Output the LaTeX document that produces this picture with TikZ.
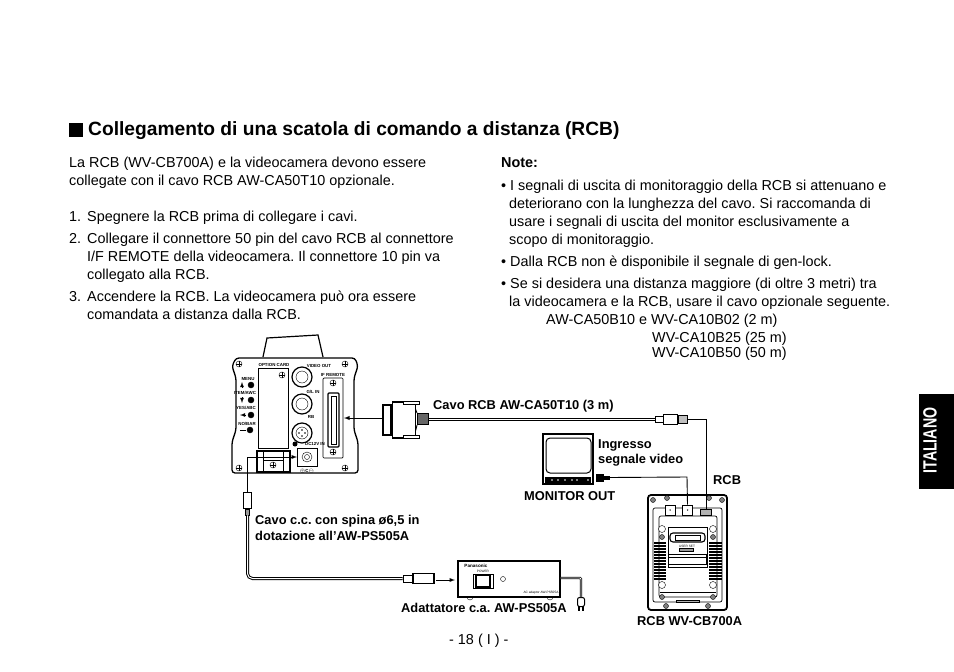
\documentclass[tikz,border=0pt]{standalone}
\usepackage{fontspec}
\setmainfont{Liberation Sans}
\frenchspacing
\usetikzlibrary{positioning}
\usetikzlibrary{arrows,shapes}
\usetikzlibrary{calc}
\tikzstyle{bodytext}=[anchor=base west,inner sep=0pt,font=\fontsize{14.4}{16}\selectfont]
\tikzstyle{heading}=[anchor=base west,inner sep=0pt,font=\fontsize{19.2}{22}\selectfont\bfseries]
\tikzstyle{callout}=[anchor=base west,inner sep=0pt,font=\fontsize{12.85}{14}\selectfont\bfseries]
\tikzstyle{tinytext}=[inner sep=0pt,font=\fontsize{4.4}{5}\selectfont\bfseries]
\tikzstyle{screw}=[circle,draw,fill=white,minimum size=6pt,inner sep=0pt]
\tikzstyle{jack}=[circle,draw,line width=1.2pt,fill=white,minimum size=20pt,inner sep=0pt]
\tikzstyle{knob}=[circle,draw,fill=black,minimum size=6pt,inner sep=0pt]
\tikzstyle{hole}=[circle,draw,fill=white,minimum size=7pt,inner sep=0pt]
\tikzstyle{plug}=[rectangle,draw,fill=white,inner sep=0pt]
\tikzstyle{wire} = [draw,line width=0.9pt]
\tikzstyle{cable} = [draw,line width=1pt,double,double distance=1pt,rounded corners=5pt]
\tikzstyle{edge} = [draw,line width=0.9pt,-latex]

\begin{document}
\begin{tikzpicture}[x=1pt,y=-1pt]
    \useasboundingbox (0,0) rectangle (954,672);

    % Title and the two columns of text
    \node[rectangle,fill=black,minimum size=14pt,inner sep=0pt] (Square) at (76,130) {};
    \node[heading] (Title) at (88,135) {Collegamento di una scatola di comando a distanza (RCB)};
    \foreach \xpos/\ypos/\txt [count=\i] in {69/167/{La RCB (WV-CB700A) e la videocamera devono essere},
        69/185/{collegate con il cavo RCB AW-CA50T10 opzionale.},
        69/221/{\makebox[18pt][l]{1.}Spegnere la RCB prima di collegare i cavi.},
        69/243/{\makebox[18pt][l]{2.}Collegare il connettore 50 pin del cavo RCB al connettore},
        87/261/{I/F REMOTE della videocamera. Il connettore 10 pin va},
        87/279/{collegato alla RCB.},
        69/301/{\makebox[18pt][l]{3.}Accendere la RCB. La videocamera può ora essere},
        87/319/{comandata a distanza dalla RCB.},
        501/190/{• I segnali di uscita di monitoraggio della RCB si attenuano e},
        509/208/{deteriorano con la lunghezza del cavo. Si raccomanda di},
        509/226/{usare i segnali di uscita del monitor esclusivamente a},
        509/244/{scopo di monitoraggio.},
        501/266/{• Dalla RCB non è disponibile il segnale di gen-lock.},
        501/288/{• Se si desidera una distanza maggiore (di oltre 3 metri) tra},
        509/306/{la videocamera e la RCB, usare il cavo opzionale seguente.},
        546/324/{AW-CA50B10 e WV-CA10B02 (2 m)},
        652/342/{WV-CA10B25 (25 m)},
        652/357/{WV-CA10B50 (50 m)},
        449/644/{- 18 ( I ) -}}
        \node[bodytext] (T\i) at (\xpos,\ypos) {\txt};
    \node[bodytext,font=\fontsize{14.4}{16}\selectfont\bfseries] (Note) at (501,167) {Note:};

    % Side tab
    \node[rectangle,fill=black,minimum width=35pt,minimum height=95pt,inner sep=0pt] (Tab) at (936.5,441.5) {};
    \node[rotate=90,text=white,inner sep=0pt,font=\fontsize{14.2}{14}\selectfont\bfseries] (TabText) at (930,440.5) {\scalebox{1}[1.35]{ITALIANO}};

    % Camera, rear panel
    \draw[line width=1.2pt] (263,357) -- (267,338) -- (318,335) -- (323,357);
    \draw[line width=1.3pt,fill=white,rounded corners=3pt] (236,358) -- (355,358) -- (358,366) -- (354,378) -- (354,430) -- (358,442) -- (358,473) -- (232,473) -- (232,442) -- (236,430) -- (236,378) -- (232,366) -- cycle;
    \draw[line width=0.9pt] (258,368) rectangle (288,448);
    \foreach \pos/\name in {{(302,377)/VO}, {(302,404)/GL}, {(302,433)/RB}}{
        \node[jack] (\name) at \pos {};
        \node[circle,draw,minimum size=12pt,inner sep=0pt] (\name i) at \pos {};
    }
    \foreach \i in {1,2,3,4}
        \node[circle,fill=black,minimum size=1.6pt,inner sep=0pt] (RBp\i) at ($(RB)+(90*\i:3)$) {};
    \foreach \pos/\name in {{(251,385)/K1}, {(251,400)/K2}, {(251,415)/K3}, {(250,430)/K4}}
        \node[knob] (\name) at \pos {};
    % arrows beside the knobs
    \draw[line width=0.8pt,-latex] (242,388) -- (242,382);
    \draw[line width=0.8pt,-latex] (242,397) -- (242,403);
    \draw[line width=0.8pt,-latex] (246,415) -- (240,415);
    \draw[line width=0.9pt] (240,430) -- (246,430);
    \node[tinytext] (lblMenu) at (248,379) {MENU};
    \node[tinytext] (lblItem) at (245,393) {ITEM/AWC};
    \node[tinytext] (lblYes) at (246,408) {YES/ABC};
    \node[tinytext] (lblNo) at (247,424) {NO/BAR};
    \node[tinytext] (lblCard) at (274,365) {OPTION CARD};
    \node[tinytext] (lblVideo) at (319,366) {VIDEO OUT};
    \node[tinytext] (lblRemote) at (333,375) {IF REMOTE};
    \node[tinytext] (lblGl) at (313,392) {G/L IN};
    \node[tinytext] (lblRb) at (311,417) {RB};
    \node[tinytext] (lblDc) at (315,444) {DC12V IN};
    \node[tinytext] (lblPol) at (307,471) {$\oplus$C$\ominus$};
    \draw[line width=0.7pt,rounded corners=1pt] (323,378) rectangle (343,458);
    \draw[line width=1.2pt,rounded corners=1pt] (328,393) rectangle (339,447);
    \draw[line width=0.5pt] (331,396) rectangle (336,444);
    \foreach \pos/\name in {{(239,364)/CS1}, {(345,364)/CS2}, {(239,468)/CS3}, {(345,468)/CS4}, {(282,375)/CS5}, {(333,383)/CS6}, {(333,452)/CS7}, {(273,465)/CS8}}{
        \node[screw] (\name) at \pos {};
        \draw[line width=0.5pt] (\name.west) -- (\name.east) (\name.north) -- (\name.south);
    }
    \node[circle,fill=black,minimum size=5pt,inner sep=0pt] (DCdot) at (295,444) {};
    \draw[line width=0.9pt] (297,448) rectangle (317,466);
    \node[circle,draw,minimum size=10pt,inner sep=0pt] (DC) at (307,457) {};
    \node[circle,draw,minimum size=5pt,inner sep=0pt] (DCi) at (307,457) {};
    \draw[line width=1.3pt] (257,451) rectangle (290,472);
    \draw[line width=0.6pt] (263,452) -- (263,471) (283,452) -- (283,471) (263,460) -- (283,460);

    % Monitor
    \draw[line width=1.2pt,fill=white] (543,434) rectangle (593,484);
    \draw[line width=1pt,rounded corners=4pt] (546,438) rectangle (591,473);
    \node[rectangle,fill=black,minimum width=46pt,minimum height=7pt,inner sep=0pt] (MonBand) at (568,480) {};
    \foreach \dotx in {552,558,565,572,577,588}
        \node[circle,fill=white,minimum size=1.6pt,inner sep=0pt] (MD\dotx) at (\dotx,480) {};

    % RCB unit
    \draw[line width=1.8pt,rounded corners=3pt] (648,495) rectangle (727,610);
    \draw[line width=0.7pt,rounded corners=2pt] (653,508) rectangle (722,602);
    \draw[line width=0.7pt,rounded corners=2pt] (659,516) rectangle (717,597);
    \draw[line width=0.7pt] (660,592) -- (716,592);
    \draw[line width=0.7pt] (668,527) rectangle (707,567);
    \draw[line width=1.1pt,rounded corners=3pt] (670,533) rectangle (705,542);
    \draw[line width=0.6pt] (675,535) rectangle (700,540);
    \draw[line width=0.7pt] (668,554) rectangle (706,564);
    \draw[line width=0.5pt] (668,557) -- (706,557);
    \node[tinytext,font=\fontsize{3.2}{4}\selectfont] (lblUser) at (687,546) {USER SET};
    \draw[line width=0.5pt,fill=black!40] (679,548) rectangle (693,551);
    \draw[line width=0.7pt,fill=black!30] (676,600) rectangle (699,602);
    \foreach \ystripe in {543,546,...,579}{
        \draw[line width=1.8pt] (654,\ystripe) -- (666,\ystripe);
        \draw[line width=1.8pt] (709,\ystripe) -- (722,\ystripe);
    }
    \foreach \pos/\name in {{(662,529)/H1}, {(713,529)/H2}, {(662,585)/H3}, {(713,585)/H4}}
        \node[hole] (\name) at \pos {};
    \foreach \pos/\name in {{(653,500)/RS1}, {(722,500)/RS2}, {(667,498)/RS3}, {(709,498)/RS4}, {(662,537)/RS5}, {(713,537)/RS6}, {(662,597)/RS7}, {(713,597)/RS8}, {(666,606)/RS9}, {(708,606)/RS10}}{
        \node[screw,minimum size=5pt,fill=black!50] (\name) at \pos {};
    }
    \node[plug,line width=0.9pt,minimum size=10pt] (RcbA) at (670,510) {};
    \node[plug,line width=0.9pt,minimum size=10pt] (RcbB) at (687.5,510) {};
    \node[plug,line width=0.9pt,minimum width=11pt,minimum height=6pt,fill=black!30] (RcbC) at (705.5,512) {};
    \node[circle,fill=black,minimum size=1.5pt,inner sep=0pt] (RcbAd) at (RcbA) {};
    \node[circle,fill=black,minimum size=1.5pt,inner sep=0pt] (RcbBd) at (RcbB) {};

    % Adapter
    \node[circle,draw,fill=white,minimum size=6pt,inner sep=0pt] (Foot1) at (470,597) {};
    \node[circle,draw,fill=white,minimum size=6pt,inner sep=0pt] (Foot2) at (550,597) {};
    \node[rectangle,draw,line width=1.1pt,fill=white,minimum width=102pt,minimum height=36pt,inner sep=0pt] (Adapter) at (509,579) {};
    \draw[line width=0.8pt] (473,574) rectangle (493,588);
    \draw[line width=1.1pt] (476,575) rectangle (490,587);
    \node[circle,draw,minimum size=5pt,inner sep=0pt] (Lamp) at (503,579) {};
    \node[tinytext,font=\fontsize{4.6}{5}\selectfont\bfseries] (lblPan) at (476,566) {Panasonic};
    \node[tinytext,font=\fontsize{3.2}{4}\selectfont] (lblPower) at (483,571) {POWER};
    \node[tinytext,font=\fontsize{3.2}{4}\selectfont] (lblAc) at (541,593) {AC adaptor AW-PS505A};

    % Connectors
    \node[plug,line width=1.1pt,minimum width=8pt,minimum height=30pt] (Dsub) at (387,420) {};
    \node[plug,line width=1.1pt,minimum width=23pt,minimum height=36pt,right=0pt of Dsub] (DsubN) {};
    \node[plug,line width=0.9pt,fill=black!60,minimum width=11pt,minimum height=11pt] (DsubS) at (423,419) {};
    \draw[line width=0.9pt] (DsubN.north east) ++(0,8) -- (DsubS.north west);
    \draw[line width=0.9pt] (DsubN.south east) ++(0,-8) -- (DsubS.south west);
    \draw[line width=1pt,fill=white] (403,401) rectangle (419,404) (403,435) rectangle (419,438);
    \node[plug,line width=0.9pt,minimum width=8pt,minimum height=6pt] (PlugA) at (659,419) {};
    \node[plug,line width=0.9pt,minimum width=14pt,minimum height=10pt,right=0pt of PlugA] (PlugB) {};
    \node[plug,line width=0.9pt,minimum width=9pt,minimum height=8pt,fill=black!25,right=0pt of PlugB] (PlugC) {};
    \node[plug,line width=1pt,minimum width=7pt,minimum height=7pt,fill=black] (MonP) at (600,477.5) {};
    \node[plug,fill=black,minimum width=5pt,minimum height=3pt,right=0pt of MonP] (MonQ) {};
    \node[plug,line width=1pt,minimum width=8pt,minimum height=16pt] (DcPlug) at (247.5,500) {};
    \node[plug,line width=0.8pt,fill=black!40,minimum width=4pt,minimum height=6pt,below=0pt of DcPlug] (DcNeck) {};
    \node[plug,line width=0.9pt,minimum width=9pt,minimum height=7pt] (AcNeck) at (407.5,578.5) {};
    \node[plug,line width=1.1pt,minimum width=21pt,minimum height=10pt,right=0pt of AcNeck] (AcPlug) {};
    \node[plug,line width=1pt,minimum width=7pt,minimum height=9pt,rounded corners=2pt] (Mains) at (581,602) {};
    \draw[line width=1.1pt] (579,606) -- (579,611) (583,606) -- (583,611);

    \coordinate (CamDC) at (297,457);
    \coordinate (CamIF) at (344,418);
    \coordinate (Bend) at (247.5,457);
    \coordinate (RcbOut) at (706,419);
    \coordinate (MonOut) at (687,477);
    \coordinate (AcCord) at (581,578);
    \coordinate (ArrowS) at (436,580);
    \coordinate (ArrowE) at (455,580);

    \path[edge] (DsubN.west) ++(-9,-2) -- (CamIF);
    \path[cable] (DsubS.east) -- (PlugA.west);
    \path[wire] (PlugC.east) -- (RcbOut) -- (RcbC.north -| RcbOut);
    \path[wire] (MonQ.east) -- (MonOut) -- (RcbB.north);
    \path[edge] (DcPlug.north) -- (Bend) -- (CamDC);
    \path[cable] (DcNeck.south) |- (AcNeck.west);
    \path[edge] (ArrowS) -- (ArrowE);
    \path[cable,rounded corners=1pt,double distance=0.8pt,line width=0.7pt] (Adapter.east |- AcCord) -- (AcCord) -- (Mains.north);

    % Labels
    \node[callout] (C1) at (433,409) {Cavo RCB AW-CA50T10 (3 m)};
    \node[callout] (C2) at (598,448) {Ingresso};
    \node[callout] (C3) at (598,463) {segnale video};
    \node[callout] (C4) at (713,484) {RCB};
    \node[callout] (C5) at (524,500) {MONITOR OUT};
    \node[callout] (C6) at (255,524) {Cavo c.c. con spina ø6,5 in};
    \node[callout] (C7) at (255,540) {dotazione all’AW-PS505A};
    \node[callout] (C8) at (401,612) {Adattatore c.a. AW-PS505A};
    \node[callout] (C9) at (637,625) {RCB WV-CB700A};
\end{tikzpicture}
\end{document}
